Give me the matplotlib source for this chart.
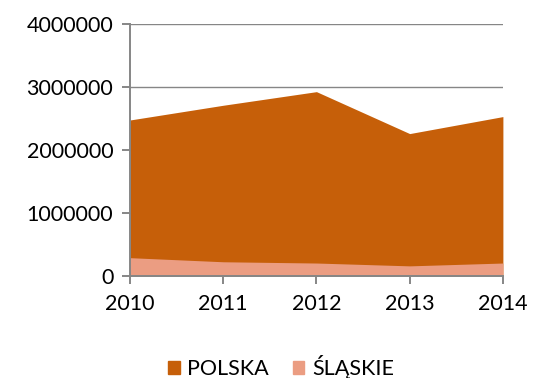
import numpy as np
import matplotlib.pyplot as plt
from matplotlib.patches import Patch

# dane
years = [2010, 2011, 2012, 2013, 2014]
polska = [2476000, 2710000, 2926000, 2260000, 2530000]
slaskie = [290000, 225000, 205000, 160000, 205000]

c_polska = '#C65F09'
c_slaskie = '#EB9D82'
grey = '#868686'

plt.rcParams['font.family'] = ['Lato', 'DejaVu Sans']

fig = plt.figure(figsize=(5.35, 3.78), dpi=100)
ax = fig.add_axes([0.243, 0.270, 0.697, 0.6665])

ax.fill_between(years, 0, polska, color=c_polska, lw=0, zorder=2)
ax.fill_between(years, 0, slaskie, color=c_slaskie, lw=0, zorder=3)

ax.set_xlim(2010, 2014)
ax.set_ylim(0, 4000000)
ax.set_xticks(years)
ax.set_yticks(np.arange(0, 4000001, 1000000))
ax.yaxis.set_major_formatter(plt.FuncFormatter(lambda v, p: f'{int(v)}'))

ax.grid(axis='y', color=grey, lw=1.0, zorder=0)
ax.set_axisbelow(True)
for s in ['top', 'right']:
    ax.spines[s].set_visible(False)
for s in ['left', 'bottom']:
    ax.spines[s].set_color(grey)
    ax.spines[s].set_linewidth(1.4)
    ax.spines[s].set_zorder(5)

ax.tick_params(axis='both', colors=grey, length=6, width=1.4, direction='out',
               labelcolor='black', labelsize=15.5)
ax.tick_params(axis='x', pad=7)
ax.tick_params(axis='y', pad=6)

handles = [Patch(color=c_polska, label='POLSKA'), Patch(color=c_slaskie, label='ŚLĄSKIE')]
fig.legend(handles=handles, loc='center', bbox_to_anchor=(0.525, 0.029), ncol=2,
           frameon=False, fontsize=15.5, handlelength=0.55, handleheight=0.55,
           handletextpad=0.35, columnspacing=1.1)

fig.savefig('out.png', dpi=100)
